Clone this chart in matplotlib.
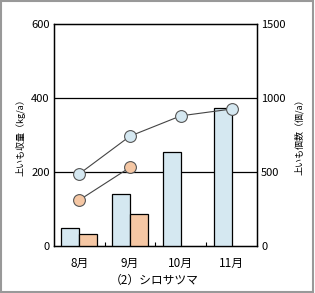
import numpy as np
import matplotlib.pyplot as plt
import matplotlib.patches as mpatches

plt.rcParams['font.family'] = ['Noto Sans CJK JP', 'DejaVu Sans']

months = ["8月", "9月", "10月", "11月"]
yield_blue = [50, 142, 253, 372]      # 上いも収量 (kg/a)
yield_orange = [32, 86]               # 8月, 9月 only
count_blue = [488, 743, 880, 926]     # 上いも個数 (個/a)
count_orange = [311, 532]

c_blue = "#d5e8f1"
c_orange = "#f5c7a4"

fig = plt.figure(figsize=(3.15, 2.93), dpi=100)
fig.patches.append(mpatches.Rectangle((0.002, 0.003), 0.993, 0.994, transform=fig.transFigure,
                                      fill=False, edgecolor="#999999", linewidth=1.5))
ax = fig.add_axes([0.171, 0.160, 0.645, 0.758])
x = np.arange(len(months))
w = 0.355

ax.bar(x, yield_blue, width=-w, align="edge", color=c_blue, edgecolor="black", linewidth=0.9, zorder=3)
ax.bar(x[:len(yield_orange)], yield_orange, width=w, align="edge", color=c_orange,
       edgecolor="black", linewidth=0.9, zorder=3)

ax.set_xlim(-0.5, len(months) - 0.5)
ax.set_ylim(0, 600)
ax.set_yticks([0, 200, 400, 600])
ax.set_xticks(x)
ax.set_xticklabels(months, fontsize=8.5)
ax.tick_params(axis="x", length=0, pad=8)
ax.tick_params(axis="y", length=0, labelsize=8, pad=3)
ax.set_xticks(np.arange(0.5, len(months) - 1, 1), minor=True)
ax.tick_params(axis="x", which="minor", direction="in", length=3, width=0.8)
for yv in [200, 400]:
    ax.axhline(yv, color="black", linewidth=0.9, zorder=1)
for s in ax.spines.values():
    s.set_linewidth(1.0)
ax.set_ylabel("上いも収量（kg/a）", fontsize=6.5, labelpad=4)

ax2 = ax.twinx()
ax2.set_ylim(0, 1500)
ax2.set_yticks([0, 500, 1000, 1500])
ax2.tick_params(axis="y", length=0, labelsize=8, pad=3)
ax2.plot(x, count_blue, color="#444444", linewidth=0.8, marker="o", markersize=8.5,
         markerfacecolor=c_blue, markeredgecolor="#555555", markeredgewidth=0.8, zorder=4)
ax2.plot(x[:len(count_orange)], count_orange, color="#444444", linewidth=0.8, marker="o", markersize=8.5,
         markerfacecolor=c_orange, markeredgecolor="#555555", markeredgewidth=0.8, zorder=4)
ax2.set_ylabel("上いも個数（個/a）", fontsize=6.5, rotation=90, labelpad=6)

fig.text(0.49, 0.043, "（2）シロサツマ", ha="center", va="center", fontsize=8.5)

fig.savefig("out.png", dpi=100)
